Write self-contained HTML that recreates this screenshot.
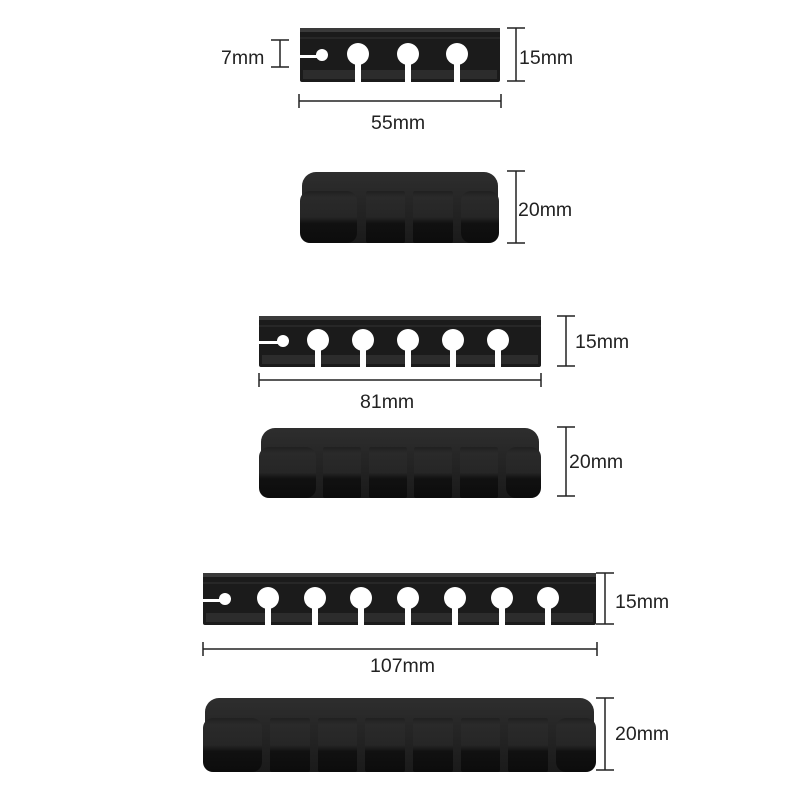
<!DOCTYPE html>
<html><head><meta charset="utf-8"><style>
html,body{margin:0;padding:0;background:#fff;width:800px;height:800px;overflow:hidden}
svg text{font-family:"Liberation Sans",sans-serif;font-size:19.5px;fill:#222}
</style></head><body>
<svg width="800" height="800" viewBox="0 0 800 800" xmlns="http://www.w3.org/2000/svg">
<defs>
<linearGradient id="blk" x1="0" y1="0" x2="0" y2="1">
<stop offset="0" stop-color="#202020"/><stop offset="0.12" stop-color="#2a2a2a"/><stop offset="0.5" stop-color="#262626"/><stop offset="0.62" stop-color="#111"/><stop offset="1" stop-color="#0c0c0c"/>
</linearGradient>
<linearGradient id="back" x1="0" y1="0" x2="0" y2="1">
<stop offset="0" stop-color="#2e2e2e"/><stop offset="1" stop-color="#1a1a1a"/>
</linearGradient>
</defs>

<!-- Top view 1 -->
<rect x="300" y="28" width="200" height="54" rx="2" fill="#1b1b1b"/>
<rect x="300" y="28" width="200" height="4" fill="#3a3a3a"/>
<rect x="303" y="70" width="194" height="9" fill="#2c2c2c"/>
<line x1="300" y1="38" x2="500" y2="38" stroke="#333"/>
<g fill="#fff">
<circle cx="358" cy="54" r="11"/><rect x="355" y="54" width="6" height="29"/>
<circle cx="408" cy="54" r="11"/><rect x="405" y="54" width="6" height="29"/>
<circle cx="457" cy="54" r="11"/><rect x="454" y="54" width="6" height="29"/>
<circle cx="322" cy="55" r="6"/><rect x="299" y="55" width="23" height="3"/>
</g>

<!-- Front view 1 -->
<rect x="302" y="172" width="196" height="71" rx="14" fill="url(#back)"/>
<g fill="url(#blk)">
<rect x="300" y="191" width="57" height="52" rx="10"/>
<rect x="366" y="191" width="39" height="52" rx="2"/>
<rect x="413" y="191" width="40" height="52" rx="2"/>
<rect x="461" y="191" width="38" height="52" rx="10"/>
</g>

<!-- Top view 2 -->
<rect x="259" y="316" width="282" height="51" rx="2" fill="#1b1b1b"/>
<rect x="259" y="316" width="282" height="4" fill="#3a3a3a"/>
<rect x="262" y="355" width="276" height="9" fill="#2c2c2c"/>
<line x1="259" y1="326" x2="541" y2="326" stroke="#333"/>
<g fill="#fff">
<circle cx="318" cy="340" r="11"/><rect x="315" y="340" width="6" height="28"/>
<circle cx="363" cy="340" r="11"/><rect x="360" y="340" width="6" height="28"/>
<circle cx="408" cy="340" r="11"/><rect x="405" y="340" width="6" height="28"/>
<circle cx="453" cy="340" r="11"/><rect x="450" y="340" width="6" height="28"/>
<circle cx="498" cy="340" r="11"/><rect x="495" y="340" width="6" height="28"/>
<circle cx="283" cy="341" r="6"/><rect x="258" y="341" width="25" height="3"/>
</g>

<!-- Front view 2 -->
<rect x="261" y="428" width="278" height="70" rx="14" fill="url(#back)"/>
<g fill="url(#blk)">
<rect x="259" y="447" width="57" height="51" rx="10"/>
<rect x="323" y="447" width="38" height="51" rx="2"/>
<rect x="369" y="447" width="38" height="51" rx="2"/>
<rect x="414" y="447" width="38" height="51" rx="2"/>
<rect x="460" y="447" width="38" height="51" rx="2"/>
<rect x="506" y="447" width="35" height="51" rx="10"/>
</g>

<!-- Top view 3 -->
<rect x="203" y="573" width="393" height="52" rx="2" fill="#1b1b1b"/>
<rect x="203" y="573" width="393" height="4" fill="#3a3a3a"/>
<rect x="206" y="613" width="387" height="9" fill="#2c2c2c"/>
<line x1="203" y1="583" x2="596" y2="583" stroke="#333"/>
<g fill="#fff">
<circle cx="268" cy="598" r="11"/><rect x="265" y="598" width="6" height="28"/>
<circle cx="315" cy="598" r="11"/><rect x="312" y="598" width="6" height="28"/>
<circle cx="361" cy="598" r="11"/><rect x="358" y="598" width="6" height="28"/>
<circle cx="408" cy="598" r="11"/><rect x="405" y="598" width="6" height="28"/>
<circle cx="455" cy="598" r="11"/><rect x="452" y="598" width="6" height="28"/>
<circle cx="502" cy="598" r="11"/><rect x="499" y="598" width="6" height="28"/>
<circle cx="548" cy="598" r="11"/><rect x="545" y="598" width="6" height="28"/>
<circle cx="225" cy="599" r="6"/><rect x="202" y="599" width="23" height="3"/>
</g>

<!-- Front view 3 -->
<rect x="205" y="698" width="389" height="74" rx="14" fill="url(#back)"/>
<g fill="url(#blk)">
<rect x="203" y="718" width="59" height="54" rx="10"/>
<rect x="270" y="718" width="40" height="54" rx="2"/>
<rect x="318" y="718" width="39" height="54" rx="2"/>
<rect x="365" y="718" width="40" height="54" rx="2"/>
<rect x="413" y="718" width="40" height="54" rx="2"/>
<rect x="461" y="718" width="39" height="54" rx="2"/>
<rect x="508" y="718" width="40" height="54" rx="2"/>
<rect x="556" y="718" width="40" height="54" rx="10"/>
</g>

<!-- Dimension lines -->
<g stroke="#222" stroke-width="1.5" fill="none">
<path d="M280 40V67M271 40H289M271 67H289"/>
<path d="M516 28V81M507 28H525M507 81H525"/>
<path d="M299 101H501M299 94V108M501 94V108"/>
<path d="M516 171V243M507 171H525M507 243H525"/>
<path d="M566 316V366M557 316H575M557 366H575"/>
<path d="M259 380H541M259 373V387M541 373V387"/>
<path d="M566 427V496M557 427H575M557 496H575"/>
<path d="M605 573V624M596 573H614M596 624H614"/>
<path d="M203 649H597M203 642V656M597 642V656"/>
<path d="M605 698V770M596 698H614M596 770H614"/>
</g>

<text x="221" y="64">7mm</text>
<text x="519" y="64">15mm</text>
<text x="371" y="129">55mm</text>
<text x="518" y="216">20mm</text>
<text x="575" y="348">15mm</text>
<text x="360" y="408">81mm</text>
<text x="569" y="468">20mm</text>
<text x="615" y="608">15mm</text>
<text x="370" y="672">107mm</text>
<text x="615" y="740">20mm</text>
</svg>
</body></html>
